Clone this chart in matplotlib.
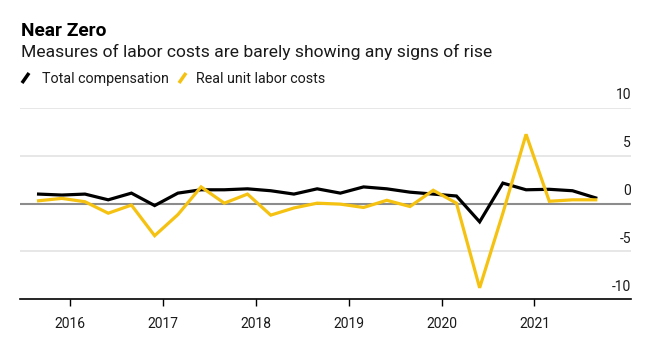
import numpy as np
import pandas as pd
import matplotlib.pyplot as plt
from matplotlib.lines import Line2D
import matplotlib.transforms as mtransforms

plt.rcParams['font.family'] = ['Roboto', 'DejaVu Sans']

# quarterly, Q3 2015 .. Q3 2021
quarters = pd.period_range('2015Q3', '2021Q3', freq='Q')
total_comp = [1.0, 0.9, 1.0, 0.4, 1.1, -0.2, 1.1, 1.45, 1.45, 1.55, 1.35, 1.0,
              1.55, 1.1, 1.75, 1.55, 1.2, 1.0, 0.8, -1.9, 2.15, 1.45, 1.5, 1.35, 0.6]
real_ulc = [0.3, 0.55, 0.2, -1.0, -0.15, -3.35, -1.15, 1.75, 0.05, 1.0, -1.2, -0.45,
            0.05, -0.05, -0.4, 0.35, -0.3, 1.4, 0.05, -8.8, -1.0, 7.25, 0.25, 0.4, 0.4]
years = [2016, 2017, 2018, 2019, 2020, 2021]
yticks = [10, 5, 0, -5, -10]

BLACK = '#000000'
YELLOW = '#f5c211'
TEXT = '#1a1a1a'

# plot each quarter at the end of its middle month, as decimal years
x = np.array([q.year + (q.quarter - 1) * 0.25 + 0.16 for q in quarters])

W, H = 661, 339
fig = plt.figure(figsize=(W / 100, H / 100), dpi=100)
ax = fig.add_axes([20 / W, 39.7 / H, 611 / W, 191.3 / H])

ax.set_xlim(2015.46, 2022.04)
ax.set_ylim(-10, 10)

for v in yticks:
    if v == -10:
        continue
    if v == 0:
        ax.axhline(v, color='#8c8c8c', lw=1.5, zorder=1)
    else:
        ax.axhline(v, color='#e3e3e3', lw=1.2, zorder=1)

# value labels sit just above their gridline, flush right
lbl_tf = ax.get_yaxis_transform() + mtransforms.ScaledTranslation(0, 4 / 72, fig.dpi_scale_trans)
for v in yticks:
    ax.text(1.0, v, str(v), transform=lbl_tf, ha='right', va='bottom',
            fontsize=10, color=TEXT)

ax.plot(x, total_comp, color=BLACK, lw=2.3, zorder=3, solid_joinstyle='miter')
ax.plot(x, real_ulc, color=YELLOW, lw=2.3, zorder=3, solid_joinstyle='miter')

for s in ['top', 'right', 'left']:
    ax.spines[s].set_visible(False)
ax.spines['bottom'].set_color('black')
ax.spines['bottom'].set_linewidth(1.2)
ax.set_yticks([])
ax.set_xticks(years)
ax.set_xticklabels([str(y) for y in years], fontsize=10, color=TEXT)
ax.tick_params(axis='x', length=5, width=1, direction='out', pad=8)

fig.text(21 / W, 1 - 36 / H, 'Near Zero', fontsize=13.8, fontweight='bold',
         color='black', ha='left', va='baseline')
fig.text(21 / W, 1 - 56.7 / H, 'Measures of labor costs are barely showing any signs of rise',
         fontsize=12.6, color=TEXT, ha='left', va='baseline')

# legend with slanted line icons
def legend_item(x0, xt, label, color):
    fig.add_artist(Line2D([x0 / W, (x0 + 7) / W], [1 - 83 / H, 1 - 73 / H],
                          color=color, lw=2.5, solid_capstyle='butt'))
    fig.text(xt / W, 1 - 82.7 / H, label, fontsize=10.3, color=TEXT,
             ha='left', va='baseline')

legend_item(22, 41.5, 'Total compensation', BLACK)
legend_item(179, 196.5, 'Real unit labor costs', YELLOW)

fig.savefig('out.png', dpi=100)
